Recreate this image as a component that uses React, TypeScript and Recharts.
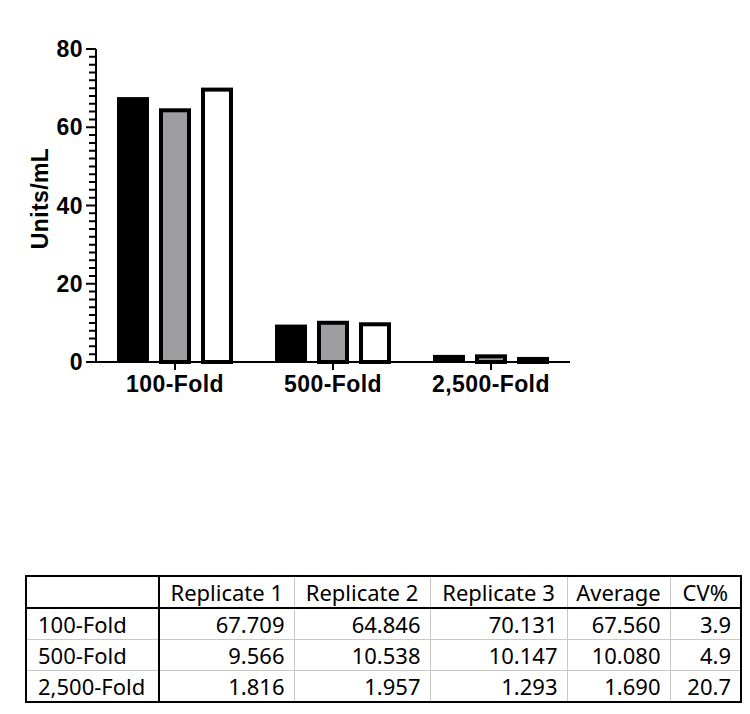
import React from 'react';
import { BarChart, Bar, XAxis, YAxis } from 'recharts';

const categories = ['100-Fold', '500-Fold', '2,500-Fold'];
const replicate1 = [67.709, 9.566, 1.816];
const replicate2 = [64.846, 10.538, 1.957];
const replicate3 = [70.131, 10.147, 1.293];
const averages = ['67.560', '10.080', '1.690'];
const cvPercent = ['3.9', '4.9', '20.7'];
const tableHeaders = ['', 'Replicate 1', 'Replicate 2', 'Replicate 3', 'Average', 'CV%'];
const yDomain = [0, 80];
const majorTicks = [0, 20, 40, 60, 80];
const minorTicks = [
  2, 4, 6, 8, 10, 12, 14, 16, 18, 22, 24, 26, 28, 30, 32, 34, 36, 38,
  42, 44, 46, 48, 50, 52, 54, 56, 58, 62, 64, 66, 68, 70, 72, 74, 76, 78,
];

const chartData = categories.map((c, i) => ({
  name: c,
  r1: replicate1[i],
  r2: replicate2[i],
  r3: replicate3[i],
}));

// layout
const CHART_W = 750;
const CHART_H = 430;
const MARGIN = { top: 49, right: 180, bottom: 28, left: 0 };
const X_AXIS_H = 40;
const Y_AXIS_W = 96;
const PLOT_H = CHART_H - MARGIN.top - MARGIN.bottom - X_AXIS_H;
const AXIS_X = MARGIN.left + Y_AXIS_W;
const valueToY = (v: number) =>
  MARGIN.top + PLOT_H - ((v - yDomain[0]) / (yDomain[1] - yDomain[0])) * PLOT_H;

const AXIS_FONT = '"Liberation Sans", Arial, sans-serif';
const FS = 23;
const LS = 0.4;

const YTick = (props: any) => {
  const { x, y, payload } = props;
  return (
    <text
      x={x}
      y={y}
      textAnchor="end"
      dominantBaseline="central"
      fontFamily={AXIS_FONT}
      fontWeight="bold"
      fontSize={FS}
      letterSpacing={LS}
      fill="#000"
    >
      {payload.value}
    </text>
  );
};

const XTick = (props: any) => {
  const { x, y, payload } = props;
  return (
    <text
      x={x}
      y={y}
      dy="0.72em"
      textAnchor="middle"
      fontFamily={AXIS_FONT}
      fontWeight="bold"
      fontSize={FS}
      letterSpacing={LS}
      fill="#000"
    >
      {payload.value}
    </text>
  );
};

const outlinedShape = (props: any) => {
  const { x, y, width, height, fill } = props;
  const sw = 4;
  if (!height || height <= 0) return <g />;
  return (
    <rect
      x={x + sw / 2}
      y={y + sw / 2}
      width={Math.max(width - sw, 0)}
      height={Math.max(height - sw / 2, 0)}
      fill={fill}
      stroke="#000"
      strokeWidth={sw}
    />
  );
};

const solidShape = (props: any) => {
  const { x, y, width, height, fill } = props;
  return <rect x={x} y={y} width={width} height={height} fill={fill} />;
};

const YLabel = () => {
  const cx = MARGIN.left + 40;
  const cy = MARGIN.top + PLOT_H / 2 - 7;
  return (
    <text
      x={cx}
      y={cy}
      transform={`rotate(-90, ${cx}, ${cy})`}
      textAnchor="middle"
      dominantBaseline="central"
      fontFamily={AXIS_FONT}
      fontWeight="bold"
      fontSize={FS}
      letterSpacing={LS}
      fill="#000"
    >
      Units/mL
    </text>
  );
};

const minorPath = minorTicks
  .map((v) => `M${AXIS_X - 7},${valueToY(v)}H${AXIS_X}`)
  .join('');

const rows = categories.map((c, i) => [
  c,
  replicate1[i].toFixed(3),
  replicate2[i].toFixed(3),
  replicate3[i].toFixed(3),
  averages[i],
  cvPercent[i],
]);

const colWidths = [133, 135, 136, 137, 103, 71];

export default function App() {
  const cellBase: React.CSSProperties = {
    border: '1px solid #c8c8c8',
    padding: '0 10px',
    height: 31,
    lineHeight: '30px',
    boxSizing: 'border-box',
    whiteSpace: 'nowrap',
    overflow: 'hidden',
  };
  return (
    <div style={{ position: 'absolute', left: 0, top: 0, width: 750, height: 714, background: '#fff' }}>
      <div style={{ position: 'absolute', left: 0, top: 0 }}>
        <BarChart
          width={CHART_W}
          height={CHART_H}
          data={chartData}
          margin={MARGIN}
          barSize={32}
          barGap={10}
        >
          <XAxis
            dataKey="name"
            axisLine={{ stroke: '#000', strokeWidth: 2 }}
            tickLine={{ stroke: '#000', strokeWidth: 2 }}
            tickSize={8}
            tickMargin={5}
            height={X_AXIS_H}
            tick={<XTick />}
            interval={0}
          />
          <YAxis
            width={Y_AXIS_W}
            domain={yDomain}
            ticks={majorTicks}
            interval={0}
            tickSize={10}
            tickMargin={3}
            tickLine={{ stroke: '#000', strokeWidth: 2 }}
            axisLine={{ stroke: '#000', strokeWidth: 2 }}
            tick={<YTick />}
            label={<YLabel />}
          />
          <Bar dataKey="r1" fill="#000000" shape={solidShape} isAnimationActive={false} />
          <Bar dataKey="r2" fill="#9e9ea1" shape={outlinedShape} isAnimationActive={false} />
          <Bar dataKey="r3" fill="#ffffff" shape={outlinedShape} isAnimationActive={false} />
        </BarChart>
      </div>
      <svg
        width={CHART_W}
        height={CHART_H}
        style={{ position: 'absolute', left: 0, top: 0, pointerEvents: 'none', zIndex: 2 }}
      >
        <path d={minorPath} stroke="#000" strokeWidth={2} fill="none" />
      </svg>
      <table
        style={{
          position: 'absolute',
          left: 25,
          top: 575,
          borderCollapse: 'collapse',
          tableLayout: 'fixed',
          width: 715,
          border: '2px solid #000',
          fontFamily: '"Noto Sans", "Open Sans", sans-serif',
          fontSize: 22,
          color: '#000',
        }}
      >
        <colgroup>
          {colWidths.map((w, i) => (
            <col key={i} style={{ width: w }} />
          ))}
        </colgroup>
        <thead>
          <tr>
            {tableHeaders.map((h, i) => (
              <th
                key={i}
                style={{
                  ...cellBase,
                  fontWeight: 'normal',
                  textAlign: 'center',
                  padding: '0 4px',
                  borderBottom: '2px solid #000',
                  borderRight: i === 0 ? '2px solid #000' : cellBase.border,
                  borderTop: '2px solid #000',
                }}
              >
                {h}
              </th>
            ))}
          </tr>
        </thead>
        <tbody>
          {rows.map((r, ri) => (
            <tr key={ri}>
              {r.map((v, ci) => (
                <td
                  key={ci}
                  style={{
                    ...cellBase,
                    textAlign: ci === 0 ? 'left' : 'right',
                    padding: ci === 0 ? '0 8px 0 11px' : '0 9px 0 4px',
                    borderRight: ci === 0 ? '2px solid #000' : cellBase.border,
                  }}
                >
                  {v}
                </td>
              ))}
            </tr>
          ))}
        </tbody>
      </table>
    </div>
  );
}
